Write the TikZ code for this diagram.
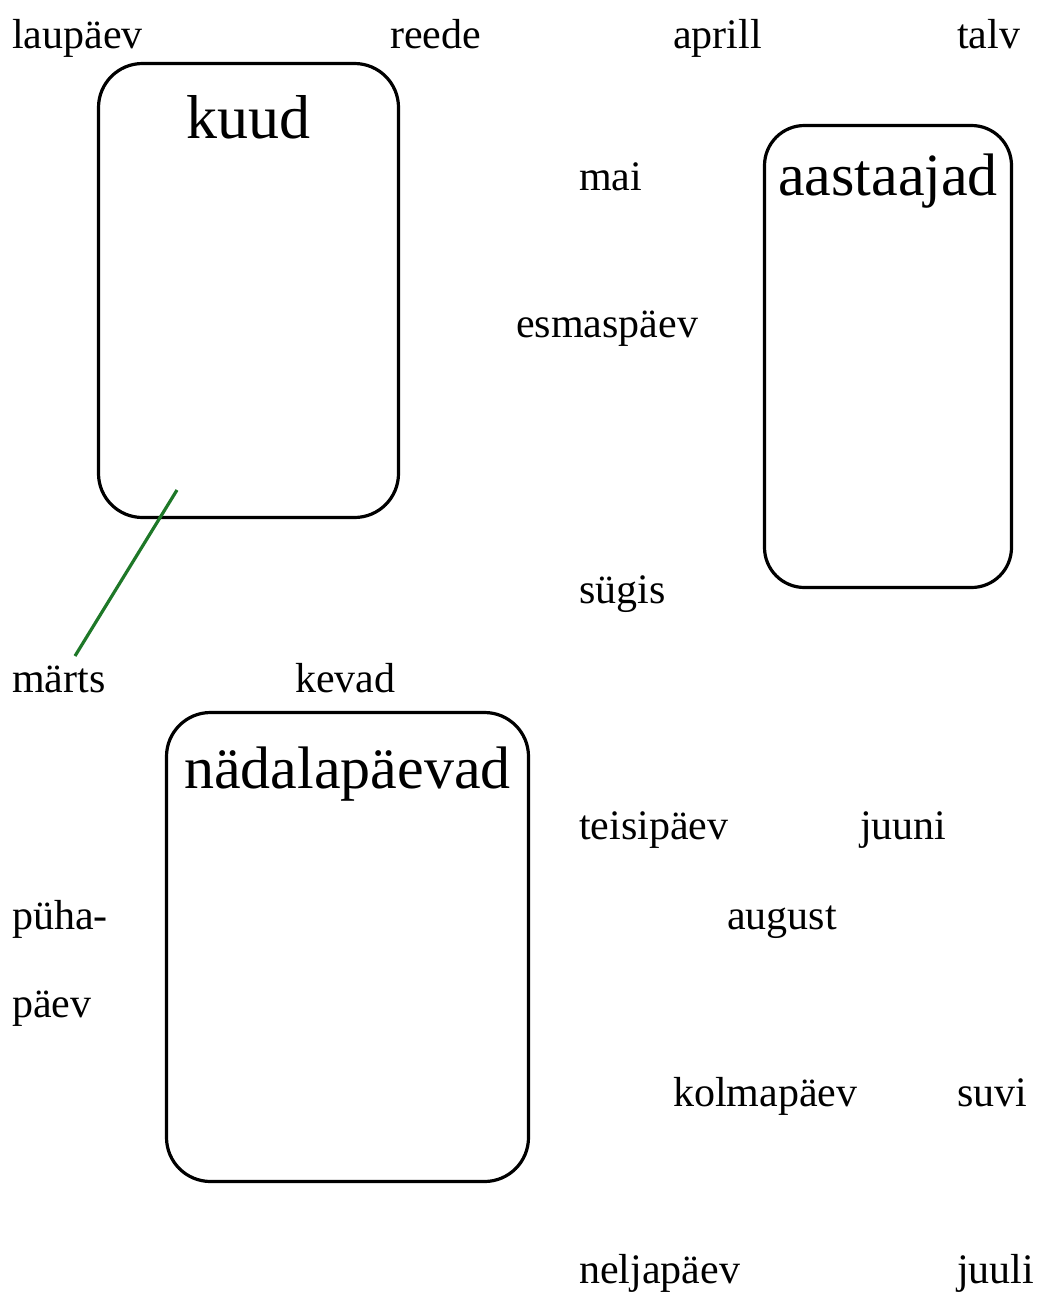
\documentclass[tikz,border=0pt]{standalone}
\usepackage{fontspec}
\setmainfont{Liberation Serif}
\usetikzlibrary{positioning}

\begin{document}
\begin{tikzpicture}[x=1pt, y=-1pt,
  word/.style={anchor=base west, inner sep=0pt, font=\fontsize{42}{50}\selectfont},
  group/.style={draw, line width=3.2pt, rounded corners=44pt},
  title/.style={anchor=base, inner sep=0pt, font=\fontsize{60}{72}\selectfont}]

\useasboundingbox (0,0) rectangle (1037,1293);

% Groups
\node[group, minimum width=300pt, minimum height=454pt] (kuud) at (248.5,290.5) {};
\node[group, minimum width=247pt, minimum height=462pt, rounded corners=40pt] (aastaajad) at (888,356.5) {};
\node[group, minimum width=362pt, minimum height=469pt] (nadal) at (347.5,947) {};

\node[title, font=\fontsize{62}{72}\selectfont] (kuudT) at ([yshift=-77pt]kuud.north) {kuud};
\node[title] (aastaajadT) at ([yshift=-72pt]aastaajad.north) {aastaajad};
\node[title] (nadalT) at ([yshift=-78pt]nadal.north) {nädalapäevad};

% Words
\node[word] (laupaev) at (12,48) {laupäev};
\node[word] (reede) at (390,48) {reede};
\node[word] (aprill) at (673,48) {aprill};
\node[word] (talv) at (957,48) {talv};
\node[word] (mai) at (579,190) {mai};
\node[word] (esmaspaev) at (516,337) {esmaspäev};
\node[word] (sugis) at (579,603) {sügis};
\node[word] (marts) at (12,692) {märts};
\node[word] (kevad) at (295,692) {kevad};
\node[word] (teisipaev) at (579,839) {teisipäev};
\node[word] (juuni) at (860,839) {juuni};
\node[word] (puha) at (12,929) {püha-};
\node[word] (august) at (727,929) {august};
\node[word] (paev) at (12,1017) {päev};
\node[word] (kolmapaev) at (673,1106) {kolmapäev};
\node[word] (suvi) at (957,1106) {suvi};
\node[word] (neljapaev) at (579,1283) {neljapäev};
\node[word] (juuli) at (957,1283) {juuli};

% Dragged link
\coordinate (linkA) at (75,656);
\coordinate (linkB) at (177,490);
\draw[line width=3.2pt, color={rgb,255:red,30;green,120;blue,40}] (linkA) -- (linkB);

\end{tikzpicture}
\end{document}
